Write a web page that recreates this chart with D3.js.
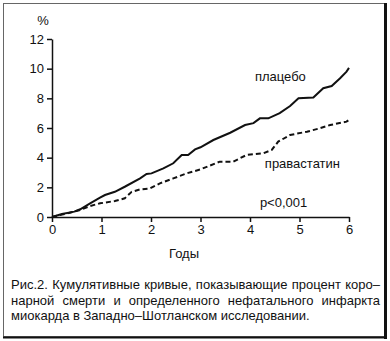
<!DOCTYPE html>
<html><head><meta charset="utf-8">
<script src="https://cdn.jsdelivr.net/npm/d3@7"></script>
<style>html,body{margin:0;padding:0;background:#fff;}svg{display:block;}text{font-family:"Liberation Sans",Arial,sans-serif;fill:#111;}</style>
</head><body>
<svg id="c" width="390" height="341"></svg>
<script>
const placeboYears = [0,0.2,0.45,0.57,0.77,0.97,1.07,1.27,1.47,1.78,1.91,2.01,2.25,2.45,2.62,2.75,2.89,3.0,3.26,3.6,3.9,4.07,4.2,4.37,4.6,4.81,4.98,5.28,5.48,5.65,5.82,5.95,6.0];
const placeboValues = [0,0.2,0.36,0.52,0.92,1.3,1.48,1.7,2.04,2.6,2.9,2.94,3.28,3.62,4.18,4.18,4.56,4.7,5.19,5.68,6.2,6.33,6.65,6.65,7.0,7.48,8.0,8.05,8.68,8.83,9.35,9.8,10.05];
const pravaYears = [0,0.36,0.57,0.77,0.97,1.27,1.47,1.61,1.78,1.98,2.18,2.45,2.72,2.99,3.39,3.66,3.93,4.27,4.44,4.57,4.81,5.15,5.41,5.62,5.95,6.0];
const pravaValues = [0,0.29,0.47,0.74,0.92,1.08,1.26,1.7,1.86,1.93,2.27,2.6,2.94,3.2,3.73,3.73,4.18,4.3,4.52,5.08,5.53,5.75,5.98,6.2,6.43,6.55];
const xTicks = [0,1,2,3,4,5,6];
const yTicks = [0,2,4,6,8,10,12];
const seriesLabels = ["плацебо","правастатин"];
const yUnit = "%";
const xTitle = "Годы";
const pText = "p<0,001";
const captionLines = [
  "Рис.2. Кумулятивные кривые, показывающие процент коро–",
  "нарной смерти и определенного нефатального инфаркта",
  "миокарда в Западно–Шотланском исследовании."
];

const svg = d3.select("#c");
// frame
svg.append("rect").attr("x",3.5).attr("y",3.5).attr("width",381).attr("height",333)
  .attr("fill","none").attr("stroke","#666").attr("stroke-width",1);
svg.append("line").attr("x1",385.5).attr("x2",385.5).attr("y1",3).attr("y2",339).attr("stroke","#111").attr("stroke-width",3);
svg.append("line").attr("x1",3).attr("x2",387).attr("y1",337.5).attr("y2",337.5).attr("stroke","#111").attr("stroke-width",2);

const x = d3.scaleLinear().domain([0,6]).range([52,349]);
const y = d3.scaleLinear().domain([0,12]).range([217,39]);

const fs = "13px";
const yAxis = svg.append("g").attr("transform","translate(52,0)")
  .call(d3.axisLeft(y).tickValues(yTicks).tickFormat(d3.format("d")).tickSize(5).tickSizeOuter(0).tickPadding(3));
const xAxis = svg.append("g").attr("transform","translate(0,217)")
  .call(d3.axisBottom(x).tickValues(xTicks).tickFormat(d3.format("d")).tickSize(5).tickSizeOuter(0).tickPadding(3));
[yAxis,xAxis].forEach(a=>{
  a.selectAll("path,line").attr("stroke","#111").attr("stroke-width",1.5);
  a.selectAll("text").attr("font-size",fs).attr("font-family","Liberation Sans, Arial, sans-serif").attr("fill","#111");
});

svg.append("text").attr("x",43).attr("y",25).attr("text-anchor","middle").attr("font-size",fs).text(yUnit);
svg.append("text").attr("x",184).attr("y",258).attr("text-anchor","middle").attr("font-size",fs).text(xTitle);

const line = d3.line().x(d=>x(d[0])).y(d=>y(d[1])).curve(d3.curveLinear);
svg.append("path").datum(placeboYears.map((t,i)=>[t,placeboValues[i]]))
  .attr("d",line).attr("fill","none").attr("stroke","#111").attr("stroke-width",2);
svg.append("path").datum(pravaYears.map((t,i)=>[t,pravaValues[i]]))
  .attr("d",line).attr("fill","none").attr("stroke","#111").attr("stroke-width",2).attr("stroke-dasharray","5,3");

svg.append("text").attr("x",x(4.1)).attr("y",y(9.2)).attr("font-size",fs).text(seriesLabels[0]);
svg.append("text").attr("x",x(4.3)).attr("y",y(3.3)).attr("font-size",fs).text(seriesLabels[1]);
svg.append("text").attr("x",x(4.2)).attr("y",y(0.7)).attr("font-size",fs).text(pText);

// caption, justified
const capLeft = 11, capRight = 380;
const baselines = [289, 305, 320];
captionLines.forEach((ln,i)=>{
  const words = ln.split(" ");
  const justify = i < captionLines.length-1;
  const g = svg.append("g");
  const ts = words.map(w=>g.append("text").attr("font-size",fs).attr("y",baselines[i]).text(w));
  const widths = ts.map(t=>t.node().getComputedTextLength());
  const total = d3.sum(widths);
  const gap = justify ? (capRight-capLeft-total)/(words.length-1) : 3.6;
  let cx = capLeft;
  ts.forEach((t,k)=>{ t.attr("x",cx); cx += widths[k]+gap; });
});
</script>
</body></html>
